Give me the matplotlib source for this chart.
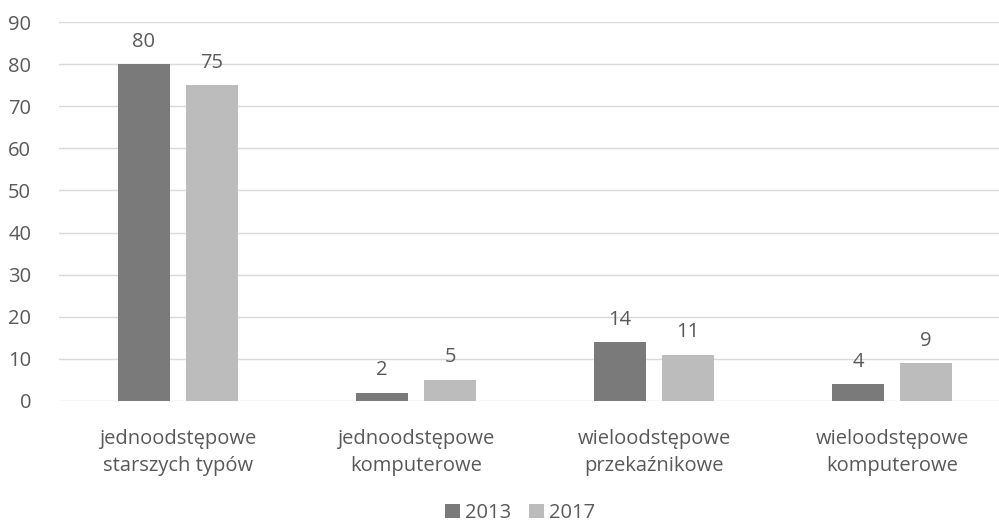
import matplotlib.pyplot as plt
import numpy as np

plt.rcParams['font.family'] = ['Open Sans', 'DejaVu Sans']

categories = ['jednoodstępowe\nstarszych typów', 'jednoodstępowe\nkomputerowe',
              'wieloodstępowe\nprzekaźnikowe', 'wieloodstępowe\nkomputerowe']
v2013 = [80, 2, 14, 4]
v2017 = [75, 5, 11, 9]

txt = '#595959'
fs = 14.5
fig = plt.figure(figsize=(9.99, 5.26), dpi=100)
ax = fig.add_axes([59/999, 1 - 401/526, (1011 - 59)/999, (401 - 22)/526])

x = np.arange(len(categories))
w = 0.218
off = 0.143
b1 = ax.bar(x - off, v2013, w, color='#7a7a7a', label='2013', zorder=3)
b2 = ax.bar(x + off, v2017, w, color='#bcbcbc', label='2017', zorder=3)
for bars in (b1, b2):
    ax.bar_label(bars, padding=9, fontsize=fs, color=txt)

ax.set_xlim(-0.5, len(categories) - 0.5)
ax.set_ylim(0, 90)
ax.set_yticks(range(0, 91, 10))
ax.grid(axis='y', color='#d9d9d9', linewidth=1, zorder=0)
for s in ax.spines.values():
    s.set_visible(False)
ax.tick_params(axis='y', length=0, pad=20, labelsize=fs, labelcolor=txt)
ax.tick_params(axis='x', length=0, pad=20, labelsize=fs, labelcolor=txt)
ax.set_xticks(x)
ax.set_xticklabels(categories, linespacing=1.45)

fig.legend(loc='center', bbox_to_anchor=(520/999, 1 - 513/526), ncol=2, frameon=False,
           fontsize=fs, labelcolor=txt, handlelength=0.75, handleheight=0.75,
           handletextpad=0.25, columnspacing=0.9, borderpad=0.1)

fig.savefig('out.png', dpi=100)
